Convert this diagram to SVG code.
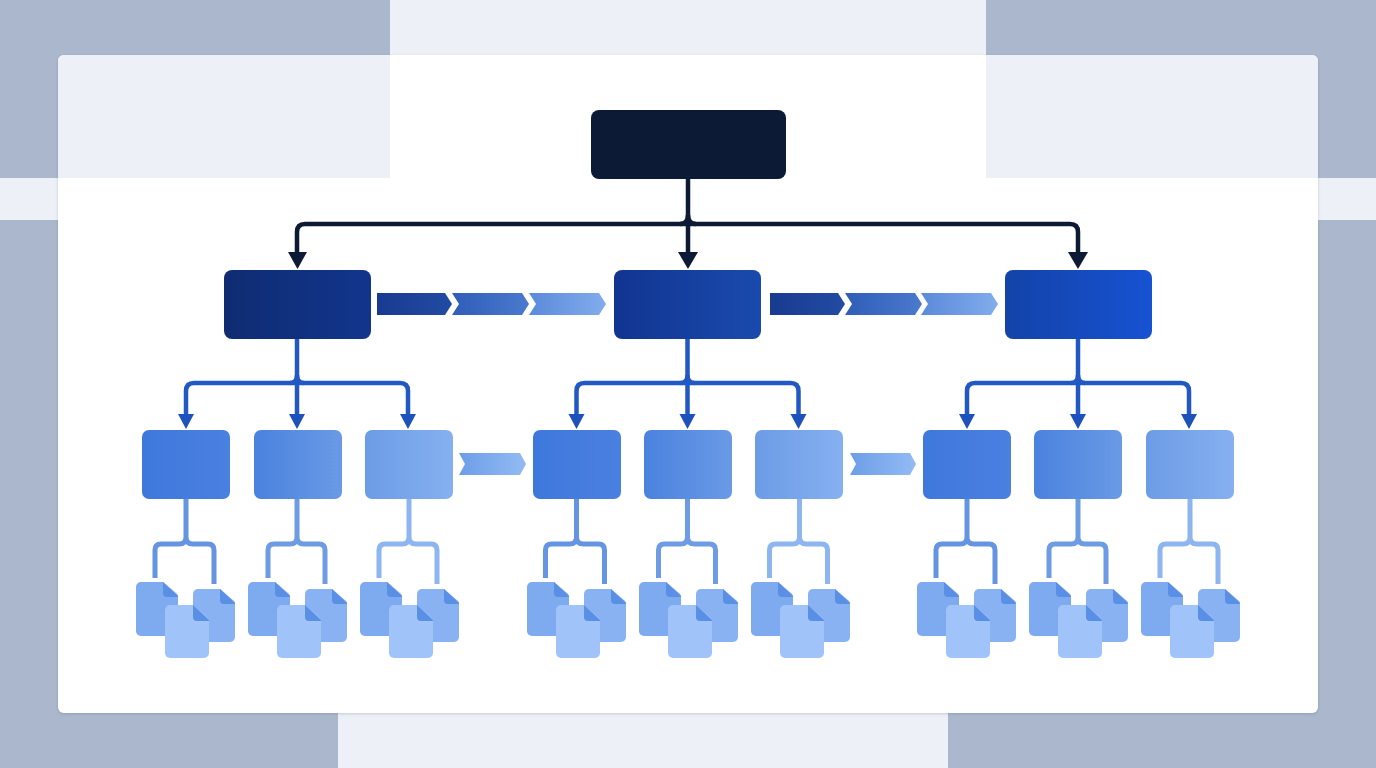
<svg xmlns="http://www.w3.org/2000/svg" xmlns:xlink="http://www.w3.org/1999/xlink" width="1376" height="768" viewBox="0 0 1376 768">
<style>
.c0{fill:none;stroke:#0c1a36;stroke-width:4.5;stroke-linejoin:round}
.c1{fill:none;stroke:#2158c4;stroke-width:4.5}
.c2{fill:none;stroke-width:5}
.ear{fill:#5a8fe6}
</style>
<defs>
<linearGradient id="gL2a" x1="0" y1="0" x2="1" y2="0"><stop offset="0" stop-color="#0f2c72"/><stop offset="1" stop-color="#12358c"/></linearGradient>
<linearGradient id="gL2b" x1="0" y1="0" x2="1" y2="0"><stop offset="0" stop-color="#113590"/><stop offset="1" stop-color="#1a4aae"/></linearGradient>
<linearGradient id="gL2c" x1="0" y1="0" x2="1" y2="0"><stop offset="0" stop-color="#1343a8"/><stop offset="1" stop-color="#1752d2"/></linearGradient>
<linearGradient id="gL3a" x1="0" y1="0" x2="1" y2="0"><stop offset="0" stop-color="#3f78dc"/><stop offset="1" stop-color="#4a80e0"/></linearGradient>
<linearGradient id="gL3b" x1="0" y1="0" x2="1" y2="0"><stop offset="0" stop-color="#4a82de"/><stop offset="1" stop-color="#6a9ae6"/></linearGradient>
<linearGradient id="gL3c" x1="0" y1="0" x2="1" y2="0"><stop offset="0" stop-color="#6c9ce6"/><stop offset="1" stop-color="#86b0f0"/></linearGradient>
<linearGradient id="ch1" x1="0" y1="0" x2="1" y2="0"><stop offset="0" stop-color="#183b90"/><stop offset="1" stop-color="#234ba4"/></linearGradient>
<linearGradient id="ch2" x1="0" y1="0" x2="1" y2="0"><stop offset="0" stop-color="#2f5db8"/><stop offset="1" stop-color="#4a7ace"/></linearGradient>
<linearGradient id="ch3" x1="0" y1="0" x2="1" y2="0"><stop offset="0" stop-color="#5a8ada"/><stop offset="1" stop-color="#82acec"/></linearGradient>
<linearGradient id="ch4" x1="0" y1="0" x2="1" y2="0"><stop offset="0" stop-color="#6c9ee8"/><stop offset="1" stop-color="#93bbf4"/></linearGradient>
<filter id="sh" x="-3%" y="-3%" width="106%" height="106%"><feDropShadow dx="0" dy="1" stdDeviation="1.500" flood-color="#3a4a68" flood-opacity=".22"/></filter>
<g id="docs">
<path d="M5 0H27L41 12Q42 13 42 15V49a5 5 0 0 1-5 5H5a5 5 0 0 1-5-5V5a5 5 0 0 1 5-5Z" fill="#7eaaf0"/>
<path d="M27 0L42 14V15H31a4 4 0 0 1-4-4Z" class="ear"/>
<path d="M62 7H84L98 19Q99 20 99 22V55a5 5 0 0 1-5 5H62a5 5 0 0 1-5-5V12a5 5 0 0 1 5-5Z" fill="#88b2f2"/>
<path d="M84 7L99 21V22H88a4 4 0 0 1-4-4Z" class="ear"/>
<path d="M34 23H57L72 36Q73 37 73 39V71a5 5 0 0 1-5 5H34a5 5 0 0 1-5-5V28a5 5 0 0 1 5-5Z" fill="#a0c4fa"/>
<path d="M57 23L73 38V39H61a4 4 0 0 1-4-4Z" class="ear"/>
</g>
<path id="chevFirst" d="M0 0H68L75 11L68 22H0Z"/>
<path id="chevNext" d="M0 0H70L77 11L70 22H0L7 11Z"/>
</defs>

<g id="background">
<rect width="1376" height="768" fill="#abb7cc"/>
<rect x="390" y="0" width="596" height="55" fill="#edf0f6"/>
<rect x="0" y="178" width="1376" height="42" fill="#edf0f6"/>
<rect x="338" y="713" width="610" height="55" fill="#edf0f6"/>
</g>
<g id="card">
<rect x="58" y="55" width="1260" height="658" rx="6" fill="#fff" filter="url(#sh)"/>
<path d="M64 55H390V178H58V61a6 6 0 0 1 6-6Z" fill="#edf0f6"/>
<path d="M986 55H1312a6 6 0 0 1 6 6V178H986Z" fill="#edf0f6"/>
</g>

<g id="connectors">
<g id="root-links">
<path class="c0" d="M688 179V254"/>
<path class="c0" d="M688 224H305Q297 224 297 232V254"/>
<path class="c0" d="M688 224H1070Q1078 224 1078 232V254"/>
<path class="c0" d="M688 215Q688 224 680 224M688 215Q688 224 696 224"/>
<path d="M288 252H307L297.500 269Z" fill="#0c1a36"/>
<path d="M678 252H698L688 269Z" fill="#0c1a36"/>
<path d="M1068 252H1088L1078 269Z" fill="#0c1a36"/>
</g>
<g id="l2-links">
<g id="l2-a">
<path class="c1" d="M297 339V416M297 383H194Q186 383 186 391V416M297 383H400Q408 383 408 391V416"/>
<path class="c1" d="M297 375Q297 383 290 383M297 375Q297 383 304 383"/>
<path fill="#1d52bc" d="M178 414H194L186 429ZM289 414H305L297 429ZM400 414H416L408 429Z"/>
</g>
<use xlink:href="#l2-a" href="#l2-a" x="390.500"/>
<use xlink:href="#l2-a" href="#l2-a" x="781"/>
</g>
<g id="l3-links">
<g id="l3-a" class="c2">
<path stroke="#6595e2" d="M186 499V537Q186 544 179 544H161Q155 544 155 550V578M186 537Q186 544 193 544H208Q214 544 214 550V584"/>
<path stroke="#6d9ce4" d="M297 499V537Q297 544 290 544H274Q268 544 268 550V578M297 537Q297 544 304 544H319Q325 544 325 550V584"/>
<path stroke="#8db5f0" d="M409 499V537Q409 544 402 544H385Q379 544 379 550V578M409 537Q409 544 416 544H431Q437 544 437 550V584"/>
</g>
<use xlink:href="#l3-a" href="#l3-a" x="390.500"/>
<use xlink:href="#l3-a" href="#l3-a" x="781"/>
</g>
</g>

<g id="root"><rect x="591" y="110" width="195" height="69" rx="8" fill="#0c1a36"/></g>
<g id="l2-1"><rect x="224" y="270" width="147" height="69" rx="8" fill="url(#gL2a)"/></g>
<g id="l2-2"><rect x="614" y="270" width="147" height="69" rx="8" fill="url(#gL2b)"/></g>
<g id="l2-3"><rect x="1005" y="270" width="147" height="69" rx="8" fill="url(#gL2c)"/></g>

<g id="flow-1">
<use xlink:href="#chevFirst" href="#chevFirst" x="377" y="293" fill="url(#ch1)"/>
<use xlink:href="#chevNext" href="#chevNext" x="452" y="293" fill="url(#ch2)"/>
<use xlink:href="#chevNext" href="#chevNext" x="529" y="293" fill="url(#ch3)"/>
</g>
<g id="flow-2">
<use xlink:href="#chevFirst" href="#chevFirst" x="770" y="293" fill="url(#ch1)"/>
<use xlink:href="#chevNext" href="#chevNext" x="845" y="293" fill="url(#ch2)"/>
<use xlink:href="#chevNext" href="#chevNext" x="921" y="293" fill="url(#ch3)"/>
</g>
<g id="flow-3"><path d="M459 453H520L526 464L520 475H459L465 464Z" fill="url(#ch4)"/></g>
<g id="flow-4"><path d="M850 453H910L916 464L910 475H850L856 464Z" fill="url(#ch4)"/></g>

<g id="l3-1"><rect x="142" y="430" width="88" height="69" rx="7" fill="url(#gL3a)"/></g>
<g id="l3-2"><rect x="254" y="430" width="88" height="69" rx="7" fill="url(#gL3b)"/></g>
<g id="l3-3"><rect x="365" y="430" width="88" height="69" rx="7" fill="url(#gL3c)"/></g>
<g id="l3-4"><rect x="533" y="430" width="88" height="69" rx="7" fill="url(#gL3a)"/></g>
<g id="l3-5"><rect x="644" y="430" width="88" height="69" rx="7" fill="url(#gL3b)"/></g>
<g id="l3-6"><rect x="755" y="430" width="88" height="69" rx="7" fill="url(#gL3c)"/></g>
<g id="l3-7"><rect x="923" y="430" width="88" height="69" rx="7" fill="url(#gL3a)"/></g>
<g id="l3-8"><rect x="1034" y="430" width="88" height="69" rx="7" fill="url(#gL3b)"/></g>
<g id="l3-9"><rect x="1146" y="430" width="88" height="69" rx="7" fill="url(#gL3c)"/></g>

<g id="docs-1"><use xlink:href="#docs" href="#docs" x="136" y="582"/></g>
<g id="docs-2"><use xlink:href="#docs" href="#docs" x="248" y="582"/></g>
<g id="docs-3"><use xlink:href="#docs" href="#docs" x="360" y="582"/></g>
<g id="docs-4"><use xlink:href="#docs" href="#docs" x="527" y="582"/></g>
<g id="docs-5"><use xlink:href="#docs" href="#docs" x="639" y="582"/></g>
<g id="docs-6"><use xlink:href="#docs" href="#docs" x="751" y="582"/></g>
<g id="docs-7"><use xlink:href="#docs" href="#docs" x="917" y="582"/></g>
<g id="docs-8"><use xlink:href="#docs" href="#docs" x="1029" y="582"/></g>
<g id="docs-9"><use xlink:href="#docs" href="#docs" x="1141" y="582"/></g>
</svg>
